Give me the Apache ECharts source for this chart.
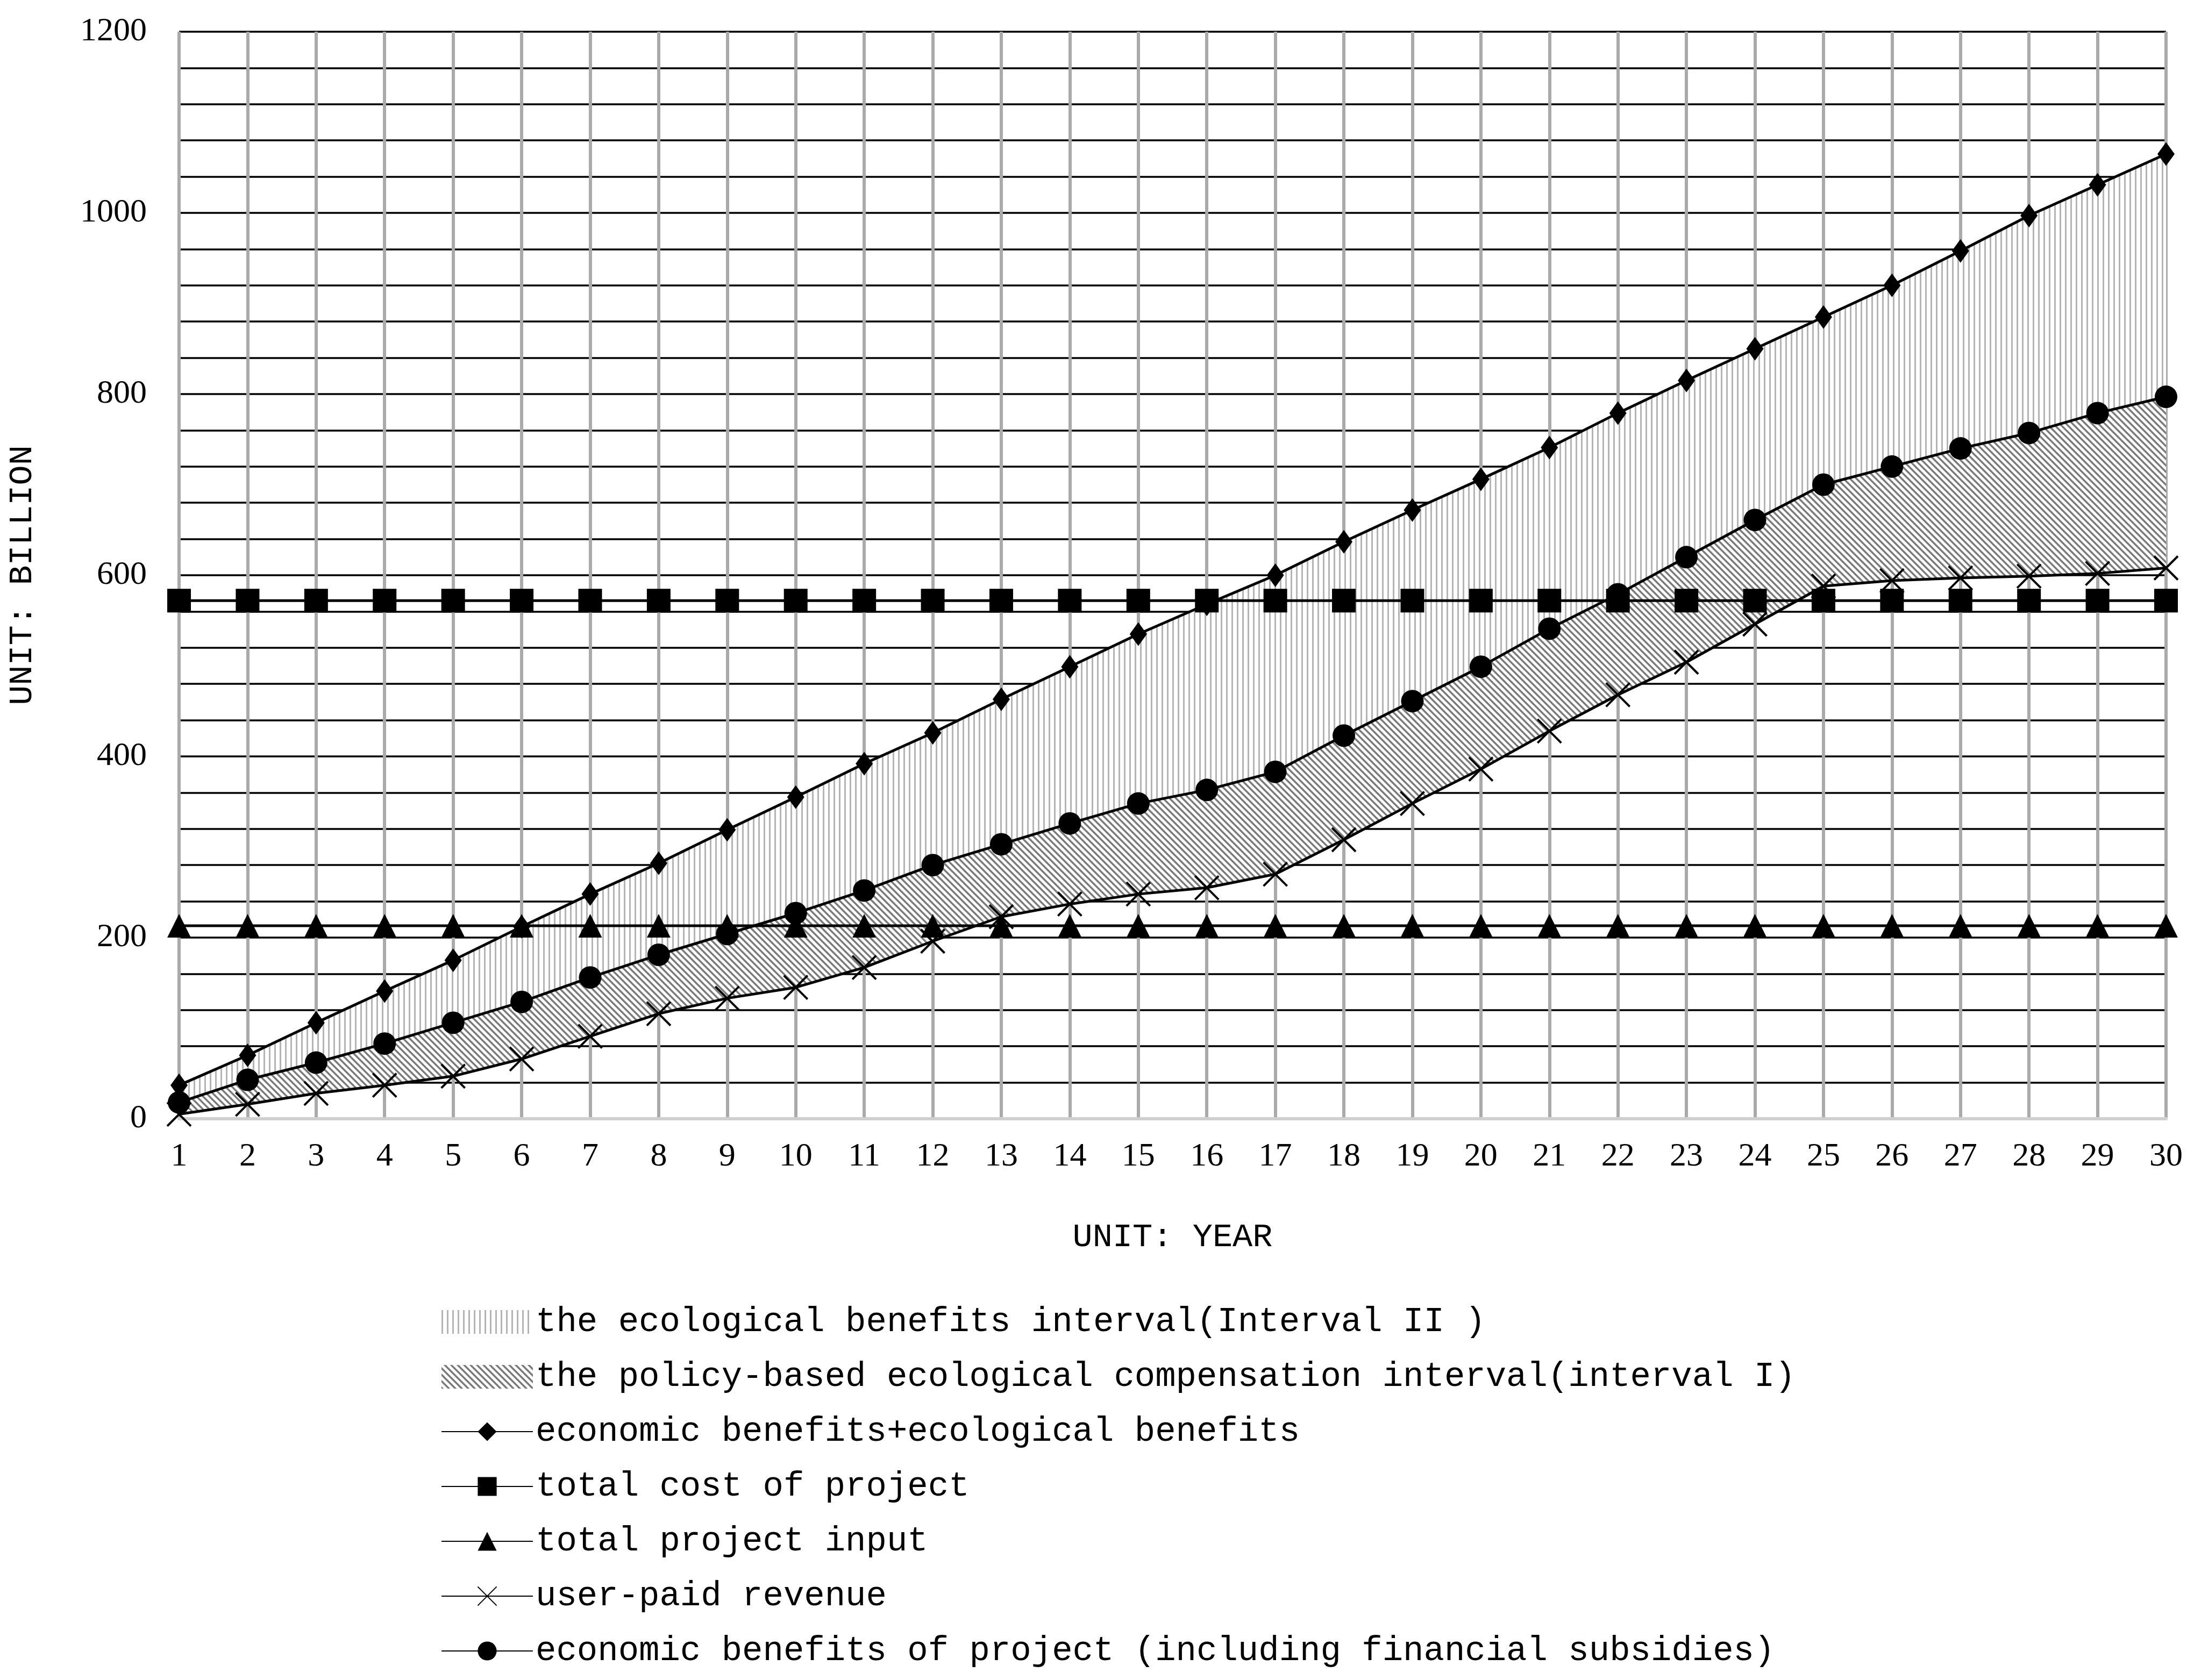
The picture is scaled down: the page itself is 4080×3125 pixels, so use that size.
<!DOCTYPE html>
<html lang="en">
<head>
<meta charset="UTF-8">
<title>ecological benefits interval</title>
<script src="https://cdn.jsdelivr.net/npm/echarts@6/dist/echarts.min.js"></script>
<style>
  html, body { margin: 0; padding: 0; background: #fff; }
  #chart { width: 4080px; height: 3125px; }
</style>
</head>
<body>
<div id="chart"></div>
<script>
// data
var years = [];
for (var i = 1; i <= 30; i++) years.push(String(i));
var ecoPlusEcon = [37,70,106,141,175,212,248,282,319,355,392,426,463,499,535,568,600,637,672,706,741,779,815,850,885,920,958,997,1031,1065];
var econBenefit = [18,43,62,83,106,129,156,181,204,227,252,280,303,326,348,363,383,423,461,499,541,579,620,661,700,720,740,757,779,797];
var userPaid = [5,16,28,37,47,66,91,116,133,145,167,196,223,237,248,255,270,308,348,386,428,468,504,546,588,594,597,599,602,608];
var totalCost = [];
var totalInput = [];
for (var i = 0; i < 30; i++) { totalCost.push(572); totalInput.push(213); }

var names = [
  'the ecological benefits interval(Interval II )',
  'the policy-based ecological compensation interval(interval I)',
  'economic benefits+ecological benefits',
  'total cost of project',
  'total project input',
  'user-paid revenue',
  'economic benefits of project (including financial subsidies)'
];

// band sizes for the stacked areas
var bandI = [], bandII = [];
for (var i = 0; i < 30; i++) {
  bandI.push(econBenefit[i] - userPaid[i]);
  bandII.push(ecoPlusEcon[i] - econBenefit[i]);
}

// fill patterns
function vertPattern() {
  var c = document.createElement('canvas');
  c.width = 10; c.height = 10;
  var g = c.getContext('2d');
  g.fillStyle = '#ffffff'; g.fillRect(0, 0, 10, 10);
  g.fillStyle = '#b4b4b4'; g.fillRect(0, 0, 3, 10);
  return c;
}
function hatchPattern() {
  var c = document.createElement('canvas');
  c.width = 12; c.height = 12;
  var g = c.getContext('2d');
  g.fillStyle = '#ffffff'; g.fillRect(0, 0, 12, 12);
  g.strokeStyle = '#7a7a7a'; g.lineWidth = 3.5;
  g.beginPath();
  g.moveTo(-2, 4); g.lineTo(10, 16);
  g.moveTo(-2, -8); g.lineTo(14, 8);
  g.moveTo(4, -2); g.lineTo(16, 10);
  g.stroke();
  return c;
}
var pv = { image: vertPattern(), repeat: 'repeat' };
var ph = { image: hatchPattern(), repeat: 'repeat' };

var cross = 'path://M0,0L10,10M10,0L0,10';
var monoFont = 'Liberation Mono';
function lineSeries(name, data, symbol, size, extra) {
  var s = {
    name: name, type: 'line', data: data, symbol: symbol, symbolSize: size,
    lineStyle: { color: '#000', width: 5 },
    itemStyle: { color: '#000' },
    z: 5
  };
  for (var k in extra) s[k] = extra[k];
  return s;
}

var chart = echarts.init(document.getElementById('chart'));
var option = {
  animation: false,
  backgroundColor: '#fff',
  grid: { left: 333, right: 52, top: 59, bottom: 1044 },
  legend: {
    orient: 'vertical', left: 815, top: 2415,
    itemWidth: 170, itemHeight: 44, itemGap: 24,
    textStyle: { fontFamily: monoFont, fontSize: 64, color: '#000', lineHeight: 78 },
    data: [
      { name: names[0], icon: 'rect', itemStyle: { color: pv } },
      { name: names[1], icon: 'rect', itemStyle: { color: ph } },
      names[2], names[3], names[4], names[5], names[6]
    ]
  },
  xAxis: {
    type: 'category', data: years, boundaryGap: false,
    name: 'UNIT: YEAR', nameLocation: 'middle', nameGap: 190,
    nameTextStyle: { fontFamily: monoFont, fontSize: 62, color: '#000' },
    axisLine: { lineStyle: { color: '#d0d0d0', width: 6 } },
    axisTick: { show: false },
    axisLabel: { fontFamily: 'Liberation Serif', fontSize: 62, color: '#000', margin: 40 },
    splitLine: { show: true, lineStyle: { color: '#aaaaaa', width: 6 } }
  },
  yAxis: {
    type: 'value', min: 0, max: 1200, interval: 40,
    name: 'UNIT: BILLION', nameLocation: 'middle', nameGap: 260, nameRotate: 90,
    nameTextStyle: { fontFamily: monoFont, fontSize: 62, color: '#000' },
    axisLine: { show: false }, axisTick: { show: false },
    axisLabel: {
      fontFamily: 'Liberation Serif', fontSize: 62, color: '#000', margin: 60,
      formatter: function (v) { return v % 200 === 0 ? String(v) : ''; }
    },
    splitLine: { lineStyle: { color: '#000', width: 3.5 } }
  },
  series: [
    { name: 'base', type: 'line', stack: 'band', data: userPaid, symbol: 'none',
      lineStyle: { opacity: 0 }, silent: true },
    { name: names[1], type: 'line', stack: 'band', data: bandI, symbol: 'none',
      lineStyle: { opacity: 0 }, areaStyle: { color: ph, opacity: 1 }, itemStyle: { color: ph } },
    { name: names[0], type: 'line', stack: 'band', data: bandII, symbol: 'none',
      lineStyle: { opacity: 0 }, areaStyle: { color: pv, opacity: 1 }, itemStyle: { color: pv } },
    lineSeries(names[2], ecoPlusEcon, 'diamond', [32, 44], {}),
    lineSeries(names[3], totalCost, 'rect', 44, {}),
    lineSeries(names[4], totalInput, 'triangle', 44, {}),
    lineSeries(names[5], userPaid, cross, 44, {
      itemStyle: { color: 'none', borderColor: '#000', borderWidth: 4 }
    }),
    lineSeries(names[6], econBenefit, 'circle', 42, {})
  ]
};
chart.setOption(option);
</script>
</body>
</html>
